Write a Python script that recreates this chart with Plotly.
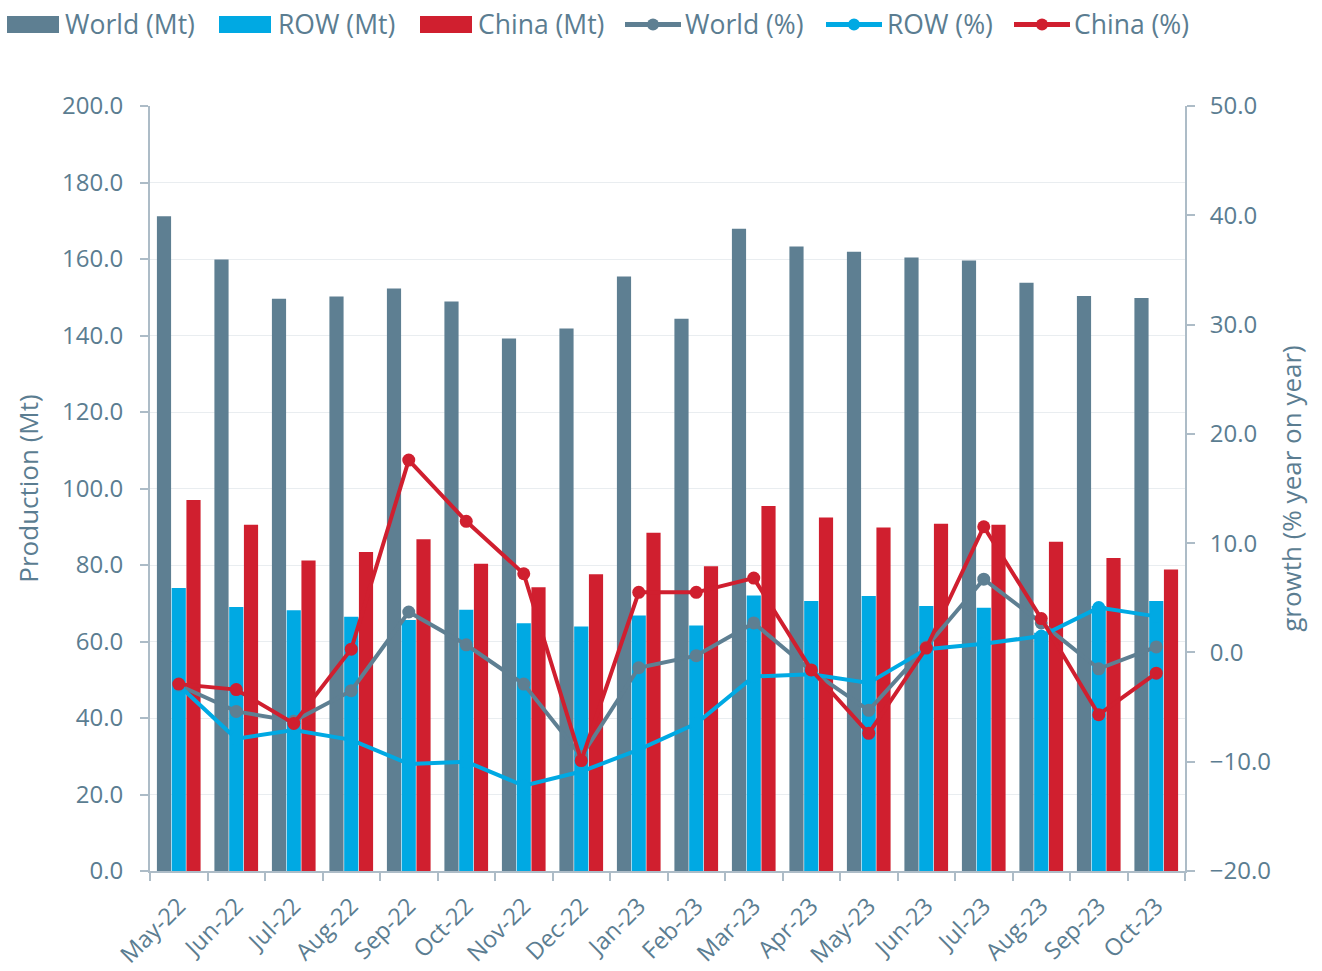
import plotly.graph_objects as go

months = ["May-22", "Jun-22", "Jul-22", "Aug-22", "Sep-22", "Oct-22", "Nov-22", "Dec-22",
          "Jan-23", "Feb-23", "Mar-23", "Apr-23", "May-23", "Jun-23", "Jul-23", "Aug-23",
          "Sep-23", "Oct-23"]

world_mt = [171.2, 159.9, 149.6, 150.2, 152.3, 148.9, 139.2, 141.8, 155.4, 144.4, 167.9,
            163.3, 161.9, 160.4, 159.6, 153.8, 150.3, 149.8]
row_mt = [74.0, 69.0, 68.2, 66.5, 65.6, 68.3, 64.8, 63.9, 66.8, 64.2, 72.0, 70.6, 71.9,
          69.3, 68.8, 62.3, 69.3, 70.6]
china_mt = [97.0, 90.5, 81.2, 83.4, 86.7, 80.3, 74.2, 77.6, 88.4, 79.7, 95.4, 92.4, 89.8,
            90.8, 90.5, 86.1, 81.8, 78.8]

world_pct = [-3.0, -5.4, -6.3, -3.5, 3.7, 0.7, -2.9, -9.5, -1.4, -0.3, 2.7, -1.7, -5.3,
             0.5, 6.7, 2.7, -1.5, 0.5]
row_pct = [-3.0, -7.9, -7.1, -8.0, -10.2, -10.0, -12.2, -10.9, -8.9, -6.5, -2.2, -2.0,
           -2.8, 0.3, 0.8, 1.5, 4.1, 3.3]
china_pct = [-2.9, -3.4, -6.5, 0.3, 17.6, 12.0, 7.2, -9.9, 5.5, 5.5, 6.8, -1.6, -7.4,
             0.4, 11.5, 3.1, -5.7, -1.9]

bar_series = [("World (Mt)", world_mt), ("ROW (Mt)", row_mt), ("China (Mt)", china_mt)]
line_series = [("World (%)", world_pct), ("ROW (%)", row_pct), ("China (%)", china_pct)]

C_WORLD = "#5e7f92"
C_ROW = "#00a9e3"
C_CHINA = "#d01f2f"
COLORS = [C_WORLD, C_ROW, C_CHINA]
TXT = "#5b7d91"
AXIS = "#adbcc7"

W, H = 1322, 971
L, R, T, B = 150, 1322 - 1185, 106, 971 - 871
PW, PH = W - L - R, H - T - B


def px2x(sx):
    return (sx - L) / PW


def py2y(sy):
    return (H - B - sy) / PH


fig = go.Figure()
for (name, vals), col in zip(bar_series, COLORS):
    fig.add_trace(go.Bar(x=months, y=vals, name=name, marker=dict(color=col, line=dict(width=0)),
                         yaxis="y", showlegend=False))

for (name, vals), col in zip(line_series, COLORS):
    fig.add_trace(go.Scatter(x=months, y=vals, name=name, mode="lines+markers",
                             line=dict(color=col, width=4),
                             marker=dict(color=col, size=13), yaxis="y2", showlegend=False))

# custom legend (top-left, one row)
shapes = []
annotations = []
LEG_Y = 24.5
bar_leg = [(7, 59, 63), (219, 271, 276), (420, 472, 476)]
for (name, _), col, (x0, x1, tx) in zip(bar_series, COLORS, bar_leg):
    shapes.append(dict(type="rect", xref="paper", yref="paper", x0=px2x(x0), x1=px2x(x1),
                       y0=py2y(33), y1=py2y(16), fillcolor=col, line=dict(width=0)))
    annotations.append(dict(text=name, xref="paper", yref="paper", x=px2x(tx), y=py2y(LEG_Y),
                            xanchor="left", yanchor="middle", showarrow=False,
                            font=dict(size=26.5, color=TXT)))
line_leg = [(625, 681, 683), (826, 882, 885), (1014, 1070, 1072)]
for (name, _), col, (x0, x1, tx) in zip(line_series, COLORS, line_leg):
    shapes.append(dict(type="line", xref="paper", yref="paper", x0=px2x(x0), x1=px2x(x1),
                       y0=py2y(LEG_Y), y1=py2y(LEG_Y), line=dict(color=col, width=5)))
    cx = (x0 + x1) / 2
    shapes.append(dict(type="circle", xref="paper", yref="paper", x0=px2x(cx - 6), x1=px2x(cx + 6),
                       y0=py2y(LEG_Y + 6), y1=py2y(LEG_Y - 6), fillcolor=col, line=dict(width=0)))
    annotations.append(dict(text=name, xref="paper", yref="paper", x=px2x(tx), y=py2y(LEG_Y),
                            xanchor="left", yanchor="middle", showarrow=False,
                            font=dict(size=26.5, color=TXT)))

fig.update_layout(
    width=W, height=H,
    paper_bgcolor="white", plot_bgcolor="white",
    font=dict(family="Open Sans", color=TXT, size=24),
    margin=dict(l=L, r=R, t=T, b=B, autoexpand=False),
    barmode="group", bargap=0.23, bargroupgap=0.04,
    showlegend=False,
    shapes=shapes, annotations=annotations,
    xaxis=dict(type="category", range=[-0.5, len(months) - 0.5], autorange=False,
               tickangle=-45, showline=True, linecolor=AXIS, linewidth=2,
               ticks="outside", tickson="boundaries", ticklen=8, tickwidth=2, tickcolor=AXIS,
               ticklabelstandoff=10,
               showgrid=False, automargin=False, tickfont=dict(size=23.5, color=TXT)),
    yaxis=dict(range=[0, 200], dtick=20, tickformat=".1f", showline=True, linecolor=AXIS,
               linewidth=2, ticks="outside", ticklen=8, tickwidth=2, tickcolor=AXIS,
               ticklabelstandoff=12,
               showgrid=True, gridcolor="#e9edf0", gridwidth=1, zeroline=False,
               automargin=False, tickfont=dict(size=24, color=TXT),
               title=dict(text="Production (Mt)", font=dict(size=26, color=TXT), standoff=16)),
    yaxis2=dict(range=[-20, 50], dtick=10, tickformat=".1f", overlaying="y", side="right",
                showline=True, linecolor=AXIS, linewidth=2, ticks="outside", ticklen=8,
                tickwidth=2, tickcolor=AXIS, ticklabelstandoff=10,
                showgrid=False, zeroline=False,
                automargin=False, tickfont=dict(size=24, color=TXT),
                title=dict(text="growth (% year on year)", font=dict(size=26, color=TXT),
                           standoff=13)),
)

fig.write_html("out.html",
               config={"displayModeBar": False},
               post_script="document.body.style.margin='0px';"
                           "document.body.style.overflow='hidden';")
